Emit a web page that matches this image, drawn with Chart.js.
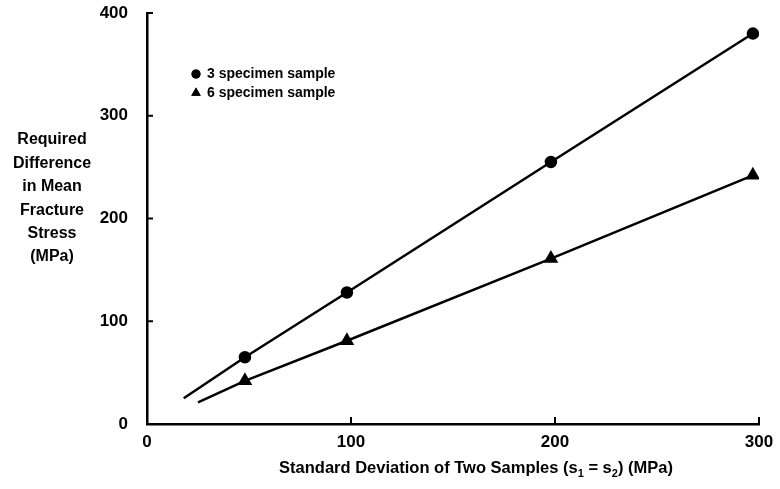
<!DOCTYPE html>
<html>
<head>
<meta charset="utf-8">
<script src="https://cdn.jsdelivr.net/npm/chart.js@4.4.0/dist/chart.umd.min.js"></script>
<style>
  html, body { margin: 0; padding: 0; background: #fff; }
  #wrap { width: 780px; height: 489px; }
</style>
</head>
<body>
<div id="wrap"><canvas id="grafico"></canvas></div>
<script>
// Datos
const sd3 = [18, 48, 98, 198, 297];
const diff3 = [25, 65, 128, 255, 380];
const sd6 = [25, 48, 98, 198, 297];
const diff6 = [21, 42, 81, 161, 242];
const xTicks = [0, 100, 200, 300];
const yTicks = [0, 100, 200, 300, 400];
const legendLabels = ['3 specimen sample', '6 specimen sample'];
const yTitle = ['Required', 'Difference', 'in Mean', 'Fracture', 'Stress', '(MPa)'];

const FONT = '"Liberation Sans", Arial, sans-serif';

function toPoints(xs, ys) {
    return xs.map((x, i) => ({ x: x, y: ys[i] }));
}

// marcas hacia adentro, título del eje Y, título del eje X con subíndices y leyenda
const extras = {
    id: 'extras',
    afterDraw(chart) {
        const ctx = chart.ctx;
        const xs = chart.scales.x, ys = chart.scales.y;
        const area = chart.chartArea;
        ctx.save();
        ctx.strokeStyle = '#000';
        ctx.lineWidth = 2;
        yTicks.slice(1).forEach(v => {
            const py = ys.getPixelForValue(v);
            ctx.beginPath(); ctx.moveTo(area.left, py); ctx.lineTo(area.left + 6, py); ctx.stroke();
        });
        xTicks.slice(1).forEach(v => {
            const px = xs.getPixelForValue(v);
            ctx.beginPath(); ctx.moveTo(px, area.bottom); ctx.lineTo(px, area.bottom - 7); ctx.stroke();
        });

        // título del eje Y
        ctx.fillStyle = '#000';
        ctx.font = 'bold 16px ' + FONT;
        ctx.textAlign = 'center';
        ctx.textBaseline = 'middle';
        yTitle.forEach((t, i) => ctx.fillText(t, 52, 140 + i * 23.4));

        // título del eje X
        const parts = [
            ['Standard Deviation of Two Samples (s', false],
            ['1', true],
            [' = s', false],
            ['2', true],
            [') (MPa)', false]
        ];
        const big = 'bold 16.5px ' + FONT, small = 'bold 11px ' + FONT;
        let total = 0;
        parts.forEach(p => { ctx.font = p[1] ? small : big; total += ctx.measureText(p[0]).width; });
        let cx = 476 - total / 2;
        ctx.textAlign = 'left';
        ctx.textBaseline = 'alphabetic';
        parts.forEach(p => {
            ctx.font = p[1] ? small : big;
            ctx.fillText(p[0], cx, p[1] ? 477 : 473);
            cx += ctx.measureText(p[0]).width;
        });

        // leyenda
        const styles = ['circle', 'triangle'];
        const radios = [4.5, 5.5];
        ctx.font = 'bold 14px ' + FONT;
        ctx.textBaseline = 'middle';
        legendLabels.forEach((lab, i) => {
            const ly = 74 + i * 19;
            Chart.helpers.drawPoint(ctx, { pointStyle: styles[i], radius: radios[i], borderWidth: 0 }, 196, ly);
            ctx.fill();
            ctx.fillText(lab, 207, ly);
        });
        ctx.restore();
    }
};

new Chart(document.getElementById('grafico'), {
    type: 'scatter',
    data: {
        datasets: [{
            label: legendLabels[0],
            data: toPoints(sd3, diff3),
            showLine: true,
            borderColor: '#000',
            backgroundColor: '#000',
            borderWidth: 2.5,
            pointStyle: 'circle',
            pointRadius: [0, 5, 5, 5, 5],
            pointHoverRadius: 0
        }, {
            label: legendLabels[1],
            data: toPoints(sd6, diff6),
            showLine: true,
            borderColor: '#000',
            backgroundColor: '#000',
            borderWidth: 2.5,
            pointStyle: 'triangle',
            pointRadius: [0, 6, 6, 6, 6],
            pointHoverRadius: 0
        }]
    },
    options: {
        responsive: true,
        maintainAspectRatio: false,
        animation: false,
        layout: { padding: { left: 0, right: 21, top: 13, bottom: 0 } },
        plugins: {
            legend: { display: false },
            tooltip: { enabled: false }
        },
        scales: {
            x: {
                type: 'linear',
                min: 0, max: 300,
                afterBuildTicks: s => { s.ticks = xTicks.map(v => ({ value: v })); },
                afterFit: s => { s.height = 65; s.paddingRight = 0; s.paddingLeft = 0; },
                grid: { display: false },
                border: { display: true, color: '#000', width: 2.5 },
                ticks: { color: '#000', padding: 0, font: { family: FONT, size: 17, weight: 'bold' } }
            },
            y: {
                type: 'linear',
                min: 0, max: 400,
                afterBuildTicks: s => { s.ticks = yTicks.map(v => ({ value: v })); },
                afterFit: s => { s.width = 147; s.paddingTop = 0; s.paddingBottom = 0; },
                grid: { display: false },
                border: { display: true, color: '#000', width: 2.5 },
                ticks: { color: '#000', padding: 11, font: { family: FONT, size: 17, weight: 'bold' } }
            }
        }
    },
    plugins: [extras]
});
</script>
</body>
</html>
